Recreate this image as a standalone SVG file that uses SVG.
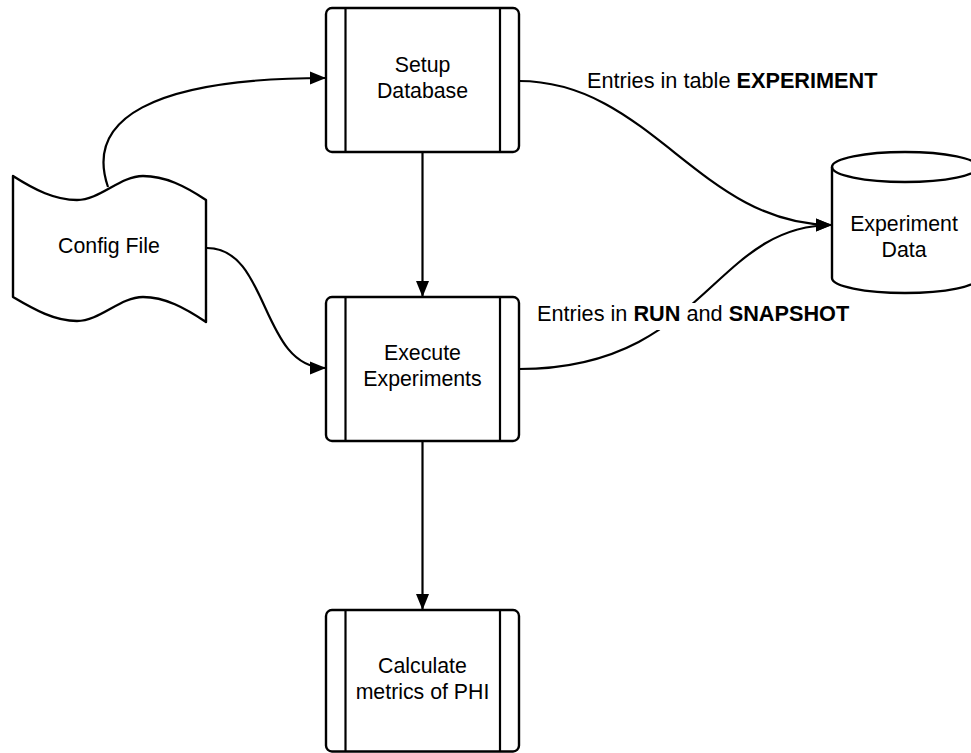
<svg xmlns="http://www.w3.org/2000/svg" width="971" height="753" viewBox="0 0 971 753">
  <style>
    .shape { fill: #ffffff; stroke: #000000; stroke-width: 2.4; stroke-linejoin: round; }
    .bar { fill: none; stroke: #000000; stroke-width: 2.2; }
    .edge { fill: none; stroke: #000000; stroke-width: 2.2; marker-end: url(#arrow); }
    .plain { fill: none; stroke: #000000; stroke-width: 2.4; }
    text { font-family: "Liberation Sans", Arial, Helvetica, sans-serif; font-size: 21.3px; fill: #000000; }
    .edge-label { font-size: 21.7px; }
    .mid { text-anchor: middle; }
    .b { font-weight: bold; }
    .labelbg { fill: #ffffff; stroke: none; }
  </style>
  <defs>
    <marker id="arrow" markerUnits="userSpaceOnUse" markerWidth="17" markerHeight="14" refX="16" refY="7" orient="auto">
      <path d="M0,0.5 L16,7 L0,13.5 Z" fill="#000000"/>
    </marker>
  </defs>

  <rect x="0" y="0" width="971" height="753" fill="#ffffff"/>

  <!-- connectors -->
  <g id="connectors">
    <path class="edge" d="M108,187 C85,120 150,78 326,78"/>
    <path class="edge" d="M207,248 C270,248 260,368 326,368"/>
    <path class="edge" d="M422.5,152 L422.5,297"/>
    <path class="edge" d="M422.5,441 L422.5,610"/>
    <path class="edge" d="M519,81 C650,81 700,225 832,225"/>
    <path class="edge" d="M519,369 C705,369 712,225 832,225"/>

    <g id="label-experiment">
      <rect class="labelbg" x="585" y="70" width="294" height="23"/>
      <text class="edge-label" x="587" y="88">Entries in table <tspan class="b">EXPERIMENT</tspan></text>
    </g>
    <g id="label-run-snapshot">
      <rect class="labelbg" x="534" y="303" width="318" height="27"/>
      <text class="edge-label" x="537" y="321">Entries in <tspan class="b">RUN</tspan> and <tspan class="b">SNAPSHOT</tspan></text>
    </g>
  </g>

  <!-- config file (tape shape) -->
  <g id="config-file">
    <path class="shape" d="M13,176 C35,190 55,200 77,200 C100,200 120,176 143,176 C165,176 185,186 206,200 L206,322 C185,308 165,297 143,297 C120,297 100,321 77,321 C55,321 35,310 13,297 Z"/>
    <text class="mid" x="109" y="253">Config File</text>
  </g>

  <!-- process: setup database -->
  <g id="setup-database">
    <rect class="shape" x="326" y="8" width="193" height="144" rx="6"/>
    <line class="bar" x1="345.5" y1="8" x2="345.5" y2="152"/>
    <line class="bar" x1="500" y1="8" x2="500" y2="152"/>
    <text class="mid" x="422.5" y="72">Setup</text>
    <text class="mid" x="422.5" y="98">Database</text>
  </g>

  <!-- process: execute experiments -->
  <g id="execute-experiments">
    <rect class="shape" x="326" y="297" width="193" height="144" rx="6"/>
    <line class="bar" x1="345.5" y1="297" x2="345.5" y2="441"/>
    <line class="bar" x1="500" y1="297" x2="500" y2="441"/>
    <text class="mid" x="422.5" y="360">Execute</text>
    <text class="mid" x="422.5" y="386">Experiments</text>
  </g>

  <!-- process: calculate metrics -->
  <g id="calculate-metrics">
    <rect class="shape" x="326" y="610" width="193" height="141.5" rx="6"/>
    <line class="bar" x1="345.5" y1="610" x2="345.5" y2="751.5"/>
    <line class="bar" x1="500" y1="610" x2="500" y2="751.5"/>
    <text class="mid" x="422.5" y="673">Calculate</text>
    <text class="mid" x="422.5" y="699">metrics of PHI</text>
  </g>

  <!-- data store: experiment data -->
  <g id="experiment-data">
    <path class="shape" d="M832,167 L832,278 A73,15 0 0 0 978,278 L978,167 A73,15 0 0 0 832,167 Z"/>
    <path class="plain" d="M832,167 A73,15 0 0 0 978,167"/>
    <text class="mid" x="904" y="231">Experiment</text>
    <text class="mid" x="904" y="257">Data</text>
  </g>
</svg>
